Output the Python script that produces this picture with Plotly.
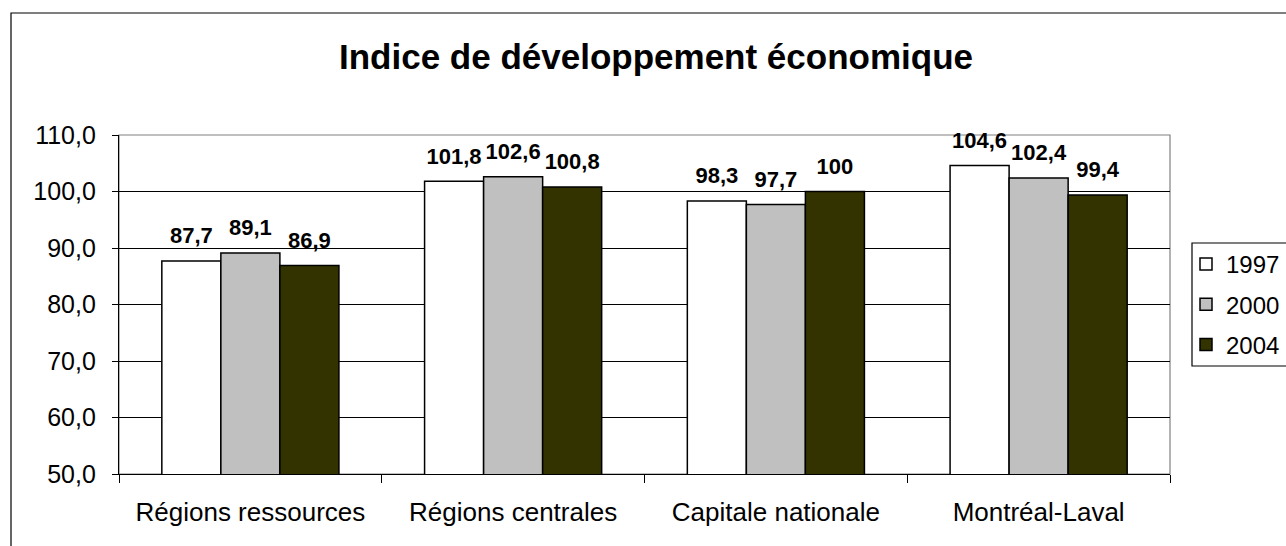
import plotly.graph_objects as go

categories = ["Régions ressources", "Régions centrales", "Capitale nationale", "Montréal-Laval"]
years = ["1997", "2000", "2004"]
v1997 = [87.7, 101.8, 98.3, 104.6]
v2000 = [89.1, 102.6, 97.7, 102.4]
v2004 = [86.9, 100.8, 100.0, 99.4]
series = [v1997, v2000, v2004]
colors = ["#FFFFFF", "#C0C0C0", "#333300"]
y_ticks = [50, 60, 70, 80, 90, 100, 110]

FONT = "Liberation Sans, Arial, sans-serif"
OFF = 0  # page body margin (removed via post_script)


def fmt(v):
    s = ("%g" % v)
    return s.replace(".", ",")


fig = go.Figure()
for i, (name, vals, col) in enumerate(zip(years, series, colors)):
    fig.add_trace(go.Bar(
        x=categories, y=vals, name=name, marker=dict(color=col, line=dict(color="#000000", width=1.5)),
        offsetgroup=str(i), legendgroup=name,
    ))
for i, (name, vals) in enumerate(zip(years, series)):
    fig.add_trace(go.Scatter(
        x=categories, y=vals, mode="text+markers", text=[fmt(v) for v in vals],
        marker=dict(size=18, opacity=0),
        textposition="top center", offsetgroup=str(i), showlegend=False,
        textfont=dict(family=FONT, size=22, color="#000000", weight="bold"),
        hoverinfo="skip", cliponaxis=False,
    ))

W, H = 1286, 546
# desired screen positions
sl, sr, st, sb = 119, 1170, 135, 474
L, T = sl - OFF, st - OFF
R = W - (sr - OFF)
B = H - (sb - OFF)
pw, ph = W - L - R, H - T - B


def px(x):
    return (x - OFF - L) / pw


def py(y):
    return (H - B - (y - OFF)) / ph


fig.update_layout(
    width=W, height=H,
    margin=dict(l=L, r=R, t=T, b=B, autoexpand=False),
    paper_bgcolor="white", plot_bgcolor="white",
    barmode="group", bargap=0.326, bargroupgap=0,
    scattermode="group", scattergap=0.326,
    separators=", ",
    font=dict(family=FONT, size=24, color="#000000"),
    title=dict(text="<b>Indice de développement économique</b>", x=(656 - OFF) / W, xanchor="center",
               y=1 - (57 - OFF) / H, yanchor="middle", yref="container",
               font=dict(family=FONT, size=35, color="#000000")),
    legend=dict(x=px(1186), y=py(242), xanchor="left", yanchor="top",
                xref="paper", yref="paper", borderwidth=0,
                bgcolor="rgba(0,0,0,0)", font=dict(family=FONT, size=24, color="#000000"),
                traceorder="grouped", tracegroupgap=6),
    showlegend=True,
    shapes=[
        dict(type="rect", xref="paper", yref="paper",
             x0=px(11), x1=1.3, y0=-0.4, y1=py(13),
             line=dict(color="#000000", width=1.2), fillcolor="rgba(0,0,0,0)", layer="below"),
        dict(type="rect", xref="paper", yref="paper", x0=0, x1=1, y0=0, y1=1,
             line=dict(color="#808080", width=1.2), fillcolor="rgba(0,0,0,0)", layer="below"),
        dict(type="rect", xref="paper", yref="paper",
             x0=px(1192), x1=px(1300), y0=py(366), y1=py(243),
             line=dict(color="#000000", width=1.2), fillcolor="rgba(0,0,0,0)", layer="above"),
    ],
)

fig.update_yaxes(range=[50, 110], tickvals=y_ticks, tickformat=".1f",
                 showgrid=True, gridcolor="#000000", gridwidth=1,
                 showline=True, linecolor="#000000", linewidth=1.2,
                 ticks="outside", ticklen=6, tickcolor="#000000", ticklabelstandoff=11,
                 zeroline=False, tickfont=dict(size=25))
fig.update_xaxes(showline=True, linecolor="#000000", linewidth=1.2,
                 ticks="outside", tickson="boundaries", ticklen=8, tickcolor="#000000",
                 ticklabelstandoff=15, tickfont=dict(size=26), showgrid=False)

fig.write_html("out.html", config={"displayModeBar": False},
               post_script="document.body.style.margin='0';document.body.style.overflow='hidden';")
